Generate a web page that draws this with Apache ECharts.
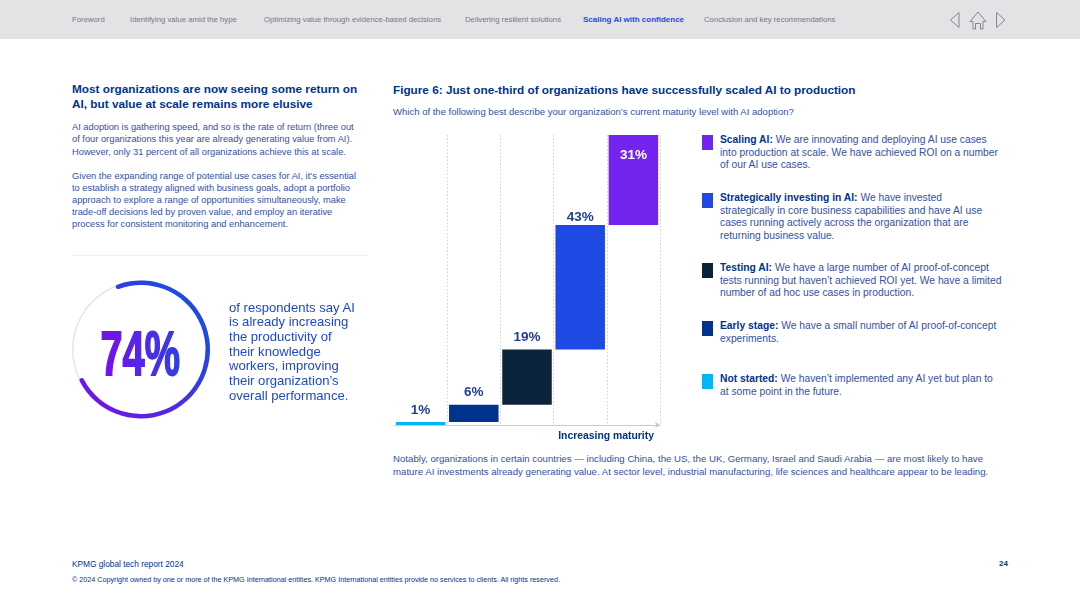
<!DOCTYPE html>
<html>
<head>
<meta charset="utf-8">
<title>Figure 6</title>
<script src="https://cdn.jsdelivr.net/npm/echarts@6/dist/echarts.min.js"></script>
<style>
  html, body { margin: 0; padding: 0; background: #fff; }
  #page { position: relative; width: 1080px; height: 607px; overflow: hidden; font-family: "Liberation Sans", sans-serif; color: #1f3f97; }
  #page .t { position: absolute; white-space: nowrap; }
  #nav { position: absolute; left: 0; top: 0; width: 1080px; height: 39px; background: #e3e3e6; }
  #nav span { position: absolute; top: 15px; font-size: 7.75px; line-height: 10px; color: #77777f; white-space: nowrap; }
  #nav span.on { color: #1e49e2; font-weight: bold; font-size: 8px; }
  #nav svg { position: absolute; left: 945px; top: 8px; }
  #chart, #ring { position: absolute; }
  #chart { left: 380px; top: 120px; width: 300px; height: 330px; }
  #ring { left: 60px; top: 270px; width: 164px; height: 160px; }
  #big { position: absolute; left: 90px; top: 315px; overflow: visible; }
  .swatch { position: absolute; left: 702px; width: 11px; height: 15px; }
  .rowline { position: absolute; left: 720px; font-size: 10.3px; line-height: 12.5px; white-space: nowrap; color: #34509f; }
  .rowline b { color: #00338d; }
</style>
</head>
<body>
<div id="page">
  <div id="nav">
    <span style="left:72px">Foreword</span>
    <span style="left:130px">Identifying value amid the hype</span>
    <span style="left:264px">Optimizing value through evidence-based decisions</span>
    <span style="left:465px">Delivering resilient solutions</span>
    <span class="on" style="left:583px">Scaling AI with confidence</span>
    <span style="left:704px">Conclusion and key recommendations</span>
    <svg width="62" height="24" fill="none" stroke="#85858c" stroke-width="1">
      <path d="M14 4.5 L5.5 12 L14 19.5 Z"/>
      <path d="M52.5 4.5 L61 12 L52.5 19.5 Z" transform="translate(-1 0)"/>
      <path d="M25 13.5 L33 4 L41 13.5 H38 V21 H35.5 V15.5 H30.5 V21 H28 V13.5 Z"/>
    </svg>
  </div>

  <div class="t" style="left:72px;top:82px;font-size:11.8px;line-height:14.5px;font-weight:bold;color:#00338d">Most organizations are now seeing some return on<br>AI, but value at scale remains more elusive</div>
  <div class="t" style="left:72px;top:121px;font-size:9.3px;line-height:12.4px;color:#34509f">AI adoption is gathering speed, and so is the rate of return (three out<br>of four organizations this year are already generating value from AI).<br>However, only 31 percent of all organizations achieve this at scale.</div>
  <div class="t" style="left:72px;top:170px;font-size:9.3px;line-height:12.1px;color:#34509f">Given the expanding range of potential use cases for AI, it’s essential<br>to establish a strategy aligned with business goals, adopt a portfolio<br>approach to explore a range of opportunities simultaneously, make<br>trade-off decisions led by proven value, and employ an iterative<br>process for consistent monitoring and enhancement.</div>
  <div style="position:absolute;left:72px;top:255px;width:295px;border-top:1px dotted #e2e2e6"></div>

  <div id="ring"></div>
  <svg id="big" width="130" height="80">
    <defs>
      <linearGradient id="bigfill" gradientUnits="userSpaceOnUse" x1="15" y1="0" x2="150" y2="0">
        <stop offset="0" stop-color="#7213ea"/>
        <stop offset="1" stop-color="#1e49e2"/>
      </linearGradient>
    </defs>
    <text transform="translate(10.5 59.5) scale(0.63 1)" font-family="Liberation Sans" font-weight="bold" font-size="63" fill="url(#bigfill)" stroke="url(#bigfill)" stroke-width="1.8">74%</text>
  </svg>
  <div class="t" style="left:229px;top:300.5px;font-size:13.1px;line-height:14.7px;color:#1e49c8">of respondents say AI<br>is already increasing<br>the productivity of<br>their knowledge<br>workers, improving<br>their organization’s<br>overall performance.</div>

  <div class="t" style="left:393px;top:82px;font-size:11.76px;line-height:15px;font-weight:bold;color:#00338d">Figure 6: Just one-third of organizations have successfully scaled AI to production</div>
  <div class="t" style="left:393px;top:106px;font-size:9.54px;line-height:12px;color:#34509f">Which of the following best describe your organization’s current maturity level with AI adoption?</div>

  <div id="chart"></div>
  <div id="legend"></div>

  <div class="t" style="left:393px;top:453px;font-size:9.66px;line-height:12.8px;color:#34509f">Notably, organizations in certain countries — including China, the US, the UK, Germany, Israel and Saudi Arabia — are most likely to have<br>mature AI investments already generating value. At sector level, industrial manufacturing, life sciences and healthcare appear to be leading.</div>

  <div class="t" style="left:72px;top:559px;font-size:8.3px;line-height:10px;color:#00338d">KPMG global tech report 2024</div>
  <div class="t" style="left:999px;top:559px;font-size:8px;line-height:10px;font-weight:bold;color:#00338d">24</div>
  <div class="t" style="left:72px;top:575px;font-size:7.2px;line-height:10px;color:#00338d">© 2024 Copyright owned by one or more of the KPMG International entities. KPMG International entities provide no services to clients. All rights reserved.</div>
</div>

<script>
// maturity stages, left to right
const stages = ["Not started", "Early stage", "Testing AI", "Strategically investing in AI", "Scaling AI"];
const shares = [1, 6, 19, 43, 31];
const stageColors = ["#00b8f5", "#00338d", "#0c233c", "#1e49e2", "#7424ef"];
const axisName = "Increasing maturity";
const ringValues = [74, 26];

// legend runs top to bottom, most mature first
const legendTops = [135, 193, 263, 321, 374];
const legendText = [
  ["We are innovating and deploying AI use cases", "into production at scale. We have achieved ROI on a number", "of our AI use cases."],
  ["We have invested", "strategically in core business capabilities and have AI use", "cases running actively across the organization that are", "returning business value."],
  ["We have a large number of AI proof-of-concept", "tests running but haven’t achieved ROI yet. We have a limited", "number of ad hoc use cases in production."],
  ["We have a small number of AI proof-of-concept", "experiments."],
  ["We haven’t implemented any AI yet but plan to", "at some point in the future."],
];

const legendEl = document.getElementById("legend");
legendText.forEach((lines, i) => {
  const k = stages.length - 1 - i;
  const sw = document.createElement("div");
  sw.className = "swatch";
  sw.style.top = legendTops[i] + "px";
  sw.style.background = stageColors[k];
  legendEl.appendChild(sw);
  const row = document.createElement("div");
  row.className = "rowline";
  row.style.top = (legendTops[i] - 1) + "px";
  row.innerHTML = `<b>${stages[k]}:</b> ` + lines.join("<br>");
  legendEl.appendChild(row);
});

// waterfall = invisible running total + visible share
let running = 0;
const offsets = shares.map((v) => { const o = running; running += v; return o; });
const labelGaps = [5, 5, 5, 1, 13]; // the 43% label sits tight on its bar, 31% is inside

const chart = echarts.init(document.getElementById("chart"), null, { renderer: "canvas" });
chart.setOption({
  animation: false,
  grid: { left: 14, right: 20, top: 15, bottom: 25 },
  xAxis: {
    type: "category", data: stages,
    name: axisName, nameLocation: "end", nameGap: -6,
    nameTextStyle: { color: "#00338d", fontSize: 10.4, fontWeight: "bold", align: "right", verticalAlign: "top", padding: [6, 0, 0, 0], fontFamily: "Liberation Sans" },
    axisLine: { lineStyle: { color: "#c9c9d0", width: 1 }, symbol: ["none", "arrow"], symbolSize: [5, 5] },
    axisTick: { show: false }, axisLabel: { show: false },
    splitLine: { show: true, interval: 0, showMinLine: false, lineStyle: { color: "#cfcfd6", type: [1.5, 2], width: 1 } },
  },
  yAxis: { type: "value", min: 0, max: 100, show: false },
  series: [
    { type: "bar", stack: "w", barWidth: 49.5, silent: true, itemStyle: { color: "transparent" }, data: offsets },
    {
      type: "bar", stack: "w", barWidth: 49.5,
      data: shares.map((v, i) => ({
        value: v,
        itemStyle: { color: stageColors[i] },
        label: i === shares.length - 1
          ? { show: true, position: "insideTop", distance: labelGaps[i], color: "#fff" }
          : { show: true, position: "top", distance: labelGaps[i], color: "#1f3f97" },
      })),
      label: { formatter: "{c}%", fontSize: 13.5, fontWeight: "bold", fontFamily: "Liberation Sans" },
    },
  ],
});

// 74% ring with its thin pale track
const ring = echarts.init(document.getElementById("ring"));
ring.setOption({
  animation: false,
  series: [
    { type: "pie", silent: true, center: [81, 79.5], radius: [67.5, 69], label: { show: false }, labelLine: { show: false },
      data: [{ value: 100, itemStyle: { color: "#e4e4ea" } }] },
    { type: "pie", silent: true, center: [81, 79.5], radius: [64.5, 69], startAngle: 112, clockwise: true, label: { show: false }, labelLine: { show: false },
      itemStyle: { borderRadius: 3 },
      data: [
        { value: ringValues[0], itemStyle: { color: { type: "linear", x: 0.85, y: 0.3, x2: 0.1, y2: 0.9, colorStops: [{ offset: 0, color: "#1e49e2" }, { offset: 1, color: "#7213ea" }] } } },
        { value: ringValues[1], itemStyle: { color: "transparent" } },
      ] },
  ],
});
</script>
</body>
</html>
